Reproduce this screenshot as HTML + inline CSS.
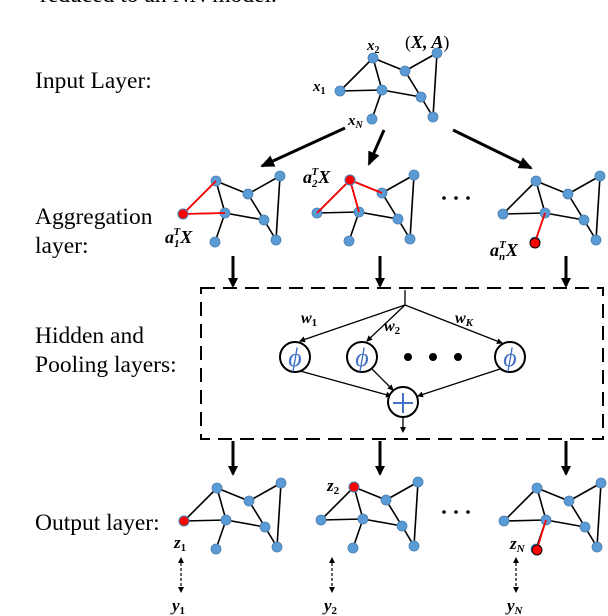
<!DOCTYPE html>
<html><head><style>
body{margin:0;background:#fff}
svg{display:block}
.t{font-family:"Liberation Serif",serif;font-size:23.5px;fill:#000}
.m{font-family:"Liberation Serif",serif;font-weight:bold;font-style:italic;fill:#000}
</style></head><body>
<svg width="608" height="616" viewBox="0 0 608 616" xmlns="http://www.w3.org/2000/svg">
<defs>
<g id="g">
<g stroke="#000" stroke-width="1.6" fill="none">
<line x1="0" y1="0" x2="33" y2="-33"/><line x1="0" y1="0" x2="42" y2="-1"/>
<line x1="33" y1="-33" x2="42" y2="-1"/><line x1="33" y1="-33" x2="65" y2="-20"/>
<line x1="65" y1="-20" x2="97" y2="-38"/><line x1="65" y1="-20" x2="81" y2="6"/>
<line x1="97" y1="-38" x2="93" y2="26"/><line x1="42" y1="-1" x2="81" y2="6"/>
<line x1="81" y1="6" x2="93" y2="26"/><line x1="42" y1="-1" x2="32" y2="28"/>
</g>
<g fill="#5b9bd5" stroke="#4a7fb0" stroke-width="0.8">
<circle cx="0" cy="0" r="5"/><circle cx="33" cy="-33" r="5"/><circle cx="65" cy="-20" r="5"/>
<circle cx="97" cy="-38" r="5"/><circle cx="42" cy="-1" r="5"/><circle cx="81" cy="6" r="5"/>
<circle cx="93" cy="26" r="5"/><circle cx="32" cy="28" r="5"/>
</g>
</g>
<marker id="ah" markerWidth="10" markerHeight="10" refX="8" refY="5" orient="auto" markerUnits="userSpaceOnUse"><path d="M0,0 L10,5 L0,10 z" fill="#000"/></marker>
<marker id="as" markerWidth="6" markerHeight="6" refX="5" refY="3" orient="auto-start-reverse" markerUnits="userSpaceOnUse"><path d="M0,0 L6,3 L0,6 z" fill="#000"/></marker>
<marker id="ab" markerWidth="14" markerHeight="12" refX="12" refY="6" orient="auto" markerUnits="userSpaceOnUse"><path d="M0,0 L14,6 L0,12 z" fill="#000"/></marker>
</defs>
<text class="t" x="40" y="2">reduced to an NN model.</text>
<text class="t" x="35" y="88">Input Layer:</text>
<text class="t" x="35" y="224">Aggregation</text>
<text class="t" x="35" y="253">layer:</text>
<text class="t" x="35" y="343">Hidden and</text>
<text class="t" x="35" y="372">Pooling layers:</text>
<text class="t" x="35" y="530">Output layer:</text>

<use href="#g" x="340" y="91"/>
<text class="m" x="313" y="91" font-size="15">x<tspan font-size="10" dy="3" font-style="normal">1</tspan></text>
<text class="m" x="367" y="50" font-size="15">x<tspan font-size="10" dy="3" font-style="normal">2</tspan></text>
<text class="m" x="348" y="125" font-size="15">x<tspan font-size="10" dy="3" font-style="italic">N</tspan></text>
<text class="m" x="405" y="48" font-size="18"><tspan font-style="normal" font-weight="normal">(</tspan>X, A<tspan font-style="normal" font-weight="normal">)</tspan></text>

<g stroke="#000" stroke-width="3">
<line x1="345" y1="128" x2="262" y2="166" marker-end="url(#ab)"/>
<line x1="384" y1="130" x2="369" y2="164" marker-end="url(#ab)"/>
<line x1="453" y1="130" x2="531" y2="168" marker-end="url(#ab)"/>
</g>

<use href="#g" x="183" y="214"/>
<g stroke="red" stroke-width="1.8"><line x1="183" y1="214" x2="216" y2="181"/><line x1="183" y1="214" x2="225" y2="213"/></g>
<circle cx="183" cy="214" r="5" fill="red" stroke="#4a7fb0"/>
<text class="m" x="165" y="243" font-size="18">a<tspan font-size="11" dy="4">1</tspan><tspan font-size="11" dx="-6" dy="-12">T</tspan><tspan dy="8">X</tspan></text>

<use href="#g" x="317" y="213"/>
<g stroke="red" stroke-width="1.8"><line x1="317" y1="213" x2="350" y2="180"/><line x1="350" y1="180" x2="359" y2="212"/><line x1="350" y1="180" x2="382" y2="193"/></g>
<circle cx="350" cy="180" r="5" fill="red" stroke="#4a7fb0"/>
<text class="m" x="303" y="183" font-size="18">a<tspan font-size="11" dy="4">2</tspan><tspan font-size="11" dx="-6" dy="-12">T</tspan><tspan dy="8">X</tspan></text>

<use href="#g" x="503" y="214"/>
<line x1="545" y1="213" x2="535" y2="242" stroke="red" stroke-width="1.8"/>
<circle cx="535" cy="243" r="5" fill="red" stroke="#000" stroke-width="1"/>
<text class="m" x="490" y="256" font-size="18">a<tspan font-size="11" dy="4">n</tspan><tspan font-size="11" dx="-6" dy="-12">T</tspan><tspan dy="8">X</tspan></text>

<g fill="#000"><circle cx="444" cy="198" r="1.8"/><circle cx="456" cy="198" r="1.8"/><circle cx="468" cy="198" r="1.8"/>
<circle cx="444" cy="512" r="1.8"/><circle cx="456" cy="512" r="1.8"/><circle cx="468" cy="512" r="1.8"/></g>

<g stroke="#000" stroke-width="3">
<line x1="233" y1="256" x2="233" y2="286" marker-end="url(#ah)"/>
<line x1="380" y1="256" x2="380" y2="286" marker-end="url(#ah)"/>
<line x1="566" y1="256" x2="566" y2="286" marker-end="url(#ah)"/>
<line x1="233" y1="441" x2="233" y2="474" marker-end="url(#ah)"/>
<line x1="380" y1="441" x2="380" y2="474" marker-end="url(#ah)"/>
<line x1="566" y1="441" x2="566" y2="474" marker-end="url(#ah)"/>
</g>

<rect x="201" y="288" width="402" height="151" fill="none" stroke="#000" stroke-width="2" stroke-dasharray="14,8"/>

<g stroke="#000" stroke-width="1.3">
<line x1="405" y1="290" x2="405" y2="305"/>
<line x1="405" y1="305" x2="300" y2="341" marker-end="url(#as)"/>
<line x1="405" y1="305" x2="367" y2="341" marker-end="url(#as)"/>
<line x1="405" y1="305" x2="502" y2="343" marker-end="url(#as)"/>
<line x1="300" y1="371" x2="391" y2="396" marker-end="url(#as)"/>
<line x1="372" y1="369" x2="393" y2="390" marker-end="url(#as)"/>
<line x1="500" y1="369" x2="418" y2="396" marker-end="url(#as)"/>
<line x1="403" y1="418" x2="403" y2="432" marker-end="url(#as)"/>
</g>
<g fill="#fff" stroke="#000" stroke-width="2">
<circle cx="295" cy="357" r="15"/><circle cx="362" cy="357" r="15"/><circle cx="510" cy="357" r="15"/><circle cx="403" cy="402" r="15"/>
</g>
<g font-family="Liberation Serif,serif" font-style="italic" font-size="26" fill="#4472c4" text-anchor="middle">
<text x="295" y="366">ϕ</text><text x="362" y="366">ϕ</text><text x="510" y="366">ϕ</text>
</g>
<g stroke="#4472c4" stroke-width="2"><line x1="393" y1="403" x2="413" y2="403"/><line x1="403" y1="393" x2="403" y2="413"/></g>
<g fill="#000"><circle cx="408" cy="357" r="4"/><circle cx="433" cy="357" r="4"/><circle cx="458" cy="357" r="4"/></g>
<text class="m" x="301" y="323" font-size="16">w<tspan font-size="11" dy="3" font-style="normal">1</tspan></text>
<text class="m" x="384" y="331" font-size="16">w<tspan font-size="11" dy="3" font-style="normal">2</tspan></text>
<text class="m" x="455" y="323" font-size="16">w<tspan font-size="11" dy="3">K</tspan></text>

<use href="#g" x="184" y="521"/>
<circle cx="184" cy="521" r="5" fill="red" stroke="#4a7fb0"/>
<text class="m" x="174" y="548" font-size="17">z<tspan font-size="11" dy="3" font-style="normal">1</tspan></text>
<use href="#g" x="321" y="520"/>
<circle cx="354" cy="487" r="5" fill="red" stroke="#4a7fb0"/>
<text class="m" x="327" y="491" font-size="17">z<tspan font-size="11" dy="3" font-style="normal">2</tspan></text>
<use href="#g" x="504" y="521"/>
<line x1="546" y1="520" x2="537" y2="549" stroke="red" stroke-width="1.8"/>
<circle cx="537" cy="550" r="5" fill="red" stroke="#000" stroke-width="1"/>
<text class="m" x="510" y="549" font-size="17">z<tspan font-size="11" dy="3">N</tspan></text>

<g stroke="#000" stroke-width="1.2" stroke-dasharray="3,2">
<line x1="181" y1="558" x2="181" y2="592" marker-start="url(#as)" marker-end="url(#as)"/>
<line x1="332" y1="558" x2="332" y2="592" marker-start="url(#as)" marker-end="url(#as)"/>
<line x1="516" y1="558" x2="516" y2="592" marker-start="url(#as)" marker-end="url(#as)"/>
</g>
<text class="m" x="172" y="611" font-size="17">y<tspan font-size="11" dy="3" font-style="normal">1</tspan></text>
<text class="m" x="324" y="611" font-size="17">y<tspan font-size="11" dy="3" font-style="normal">2</tspan></text>
<text class="m" x="507" y="611" font-size="17">y<tspan font-size="11" dy="3">N</tspan></text>
</svg>
</body></html>
